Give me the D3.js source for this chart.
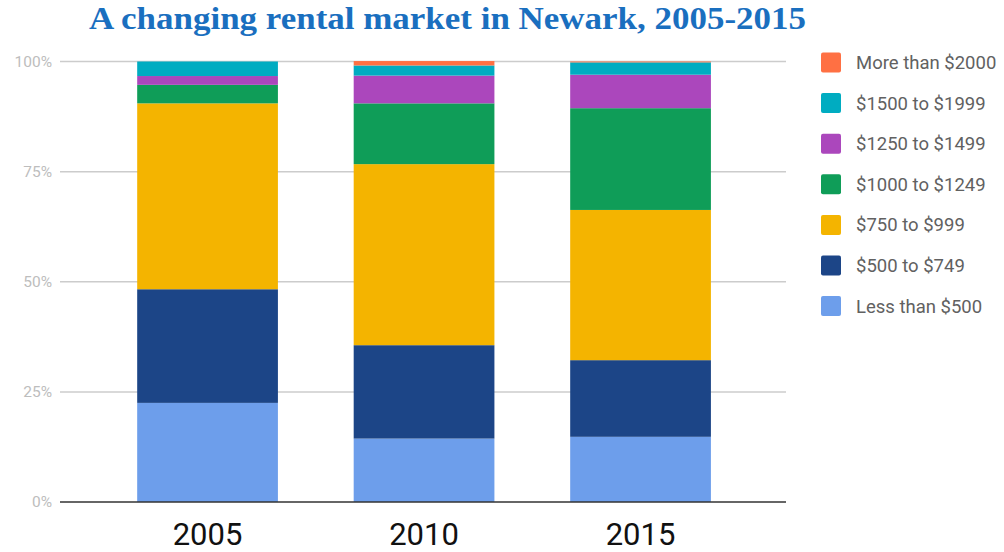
<!DOCTYPE html>
<html><head><meta charset="utf-8">
<script src="https://cdn.jsdelivr.net/npm/d3@7"></script>
<style>body{margin:0;background:#fff;} svg{display:block;}</style>
</head><body><svg id="c" width="1004" height="552"></svg>
<script>
const years = ["2005", "2010", "2015"];
const seriesNames = ["Less than $500", "$500 to $749", "$750 to $999", "$1000 to $1249", "$1250 to $1499", "$1500 to $1999", "More than $2000"];
const seriesColors = ["#6d9eeb", "#1c4587", "#f4b400", "#0f9d58", "#ab47bc", "#00acc1", "#ff7043"];
const lessThan500 = [22.5, 14.4, 14.8];
const from500to749 = [25.8, 21.2, 17.4];
const from750to999 = [42.2, 41.1, 34.1];
const from1000to1249 = [4.2, 13.8, 23.1];
const from1250to1499 = [2.0, 6.3, 7.6];
const from1500to1999 = [3.3, 2.3, 2.8];
const moreThan2000 = [0, 1.0, 0.2];
const yTicks = [0, 25, 50, 75, 100];
const titleText = "A changing rental market in Newark, 2005-2015";

const seriesValues = [lessThan500, from500to749, from750to999, from1000to1249, from1250to1499, from1500to1999, moreThan2000];
const rows = years.map((y, i) => {
  const r = {year: y};
  seriesNames.forEach((n, k) => r[n] = seriesValues[k][i]);
  return r;
});
const stack = d3.stack().keys(seriesNames)(rows);

const svg = d3.select("#c");
const x = d3.scaleBand().domain(years).range([99.3, 748.8]).paddingInner(0.35).paddingOuter(0.175);
const y = d3.scaleLinear().domain([0, 100]).range([502, 61.5]);
const gridX0 = 60, gridX1 = 786;

// gridlines
svg.append("g").selectAll("line").data(yTicks.filter(t => t > 0)).join("line")
  .attr("x1", gridX0).attr("x2", gridX1)
  .attr("y1", d => y(d)).attr("y2", d => y(d))
  .attr("stroke", "#cccccc").attr("stroke-width", 1.5);

// y labels
svg.append("g").selectAll("text").data(yTicks).join("text")
  .attr("x", 52).attr("y", d => y(d)).attr("dy", "0.35em")
  .attr("text-anchor", "end")
  .attr("font-family", "Roboto, sans-serif").attr("font-size", 15.5)
  .attr("fill", "#bdbdbd")
  .text(d => d + "%");

// bars
svg.append("g").selectAll("g").data(stack).join("g")
  .attr("fill", (d, i) => seriesColors[i])
  .selectAll("rect").data(d => d).join("rect")
  .attr("x", d => x(d.data.year))
  .attr("width", x.bandwidth())
  .attr("y", d => y(d[1]))
  .attr("height", d => Math.max(0, y(d[0]) - y(d[1])));

// baseline
svg.append("line").attr("x1", gridX0).attr("x2", gridX1)
  .attr("y1", y(0)).attr("y2", y(0)).attr("stroke", "#333").attr("stroke-width", 1.5);

// x labels
svg.append("g").selectAll("text").data(years).join("text")
  .attr("x", d => x(d) + x.bandwidth() / 2).attr("y", 545)
  .attr("text-anchor", "middle")
  .attr("font-family", "Roboto, sans-serif").attr("font-size", 31)
  .attr("fill", "#111")
  .text(d => d);

// title
svg.append("text").attr("x", 89).attr("y", 29)
  .attr("font-family", "'Liberation Serif', 'DejaVu Serif', serif").attr("font-weight", "bold")
  .attr("font-size", 31).attr("fill", "#1a6fbf")
  .attr("textLength", 717).attr("lengthAdjust", "spacingAndGlyphs")
  .text(titleText);

// legend
const leg = svg.append("g").selectAll("g").data(seriesNames.slice().reverse()).join("g")
  .attr("transform", (d, i) => `translate(821,${52.5 + i * 40.6})`);
leg.append("rect").attr("width", 20).attr("height", 20).attr("rx", 2)
  .attr("fill", d => seriesColors[seriesNames.indexOf(d)]);
leg.append("text").attr("x", 35).attr("y", 10).attr("dy", "0.35em")
  .attr("font-family", "Roboto, sans-serif").attr("font-size", 18.5)
  .attr("fill", "#616161").text(d => d);
</script></body></html>
